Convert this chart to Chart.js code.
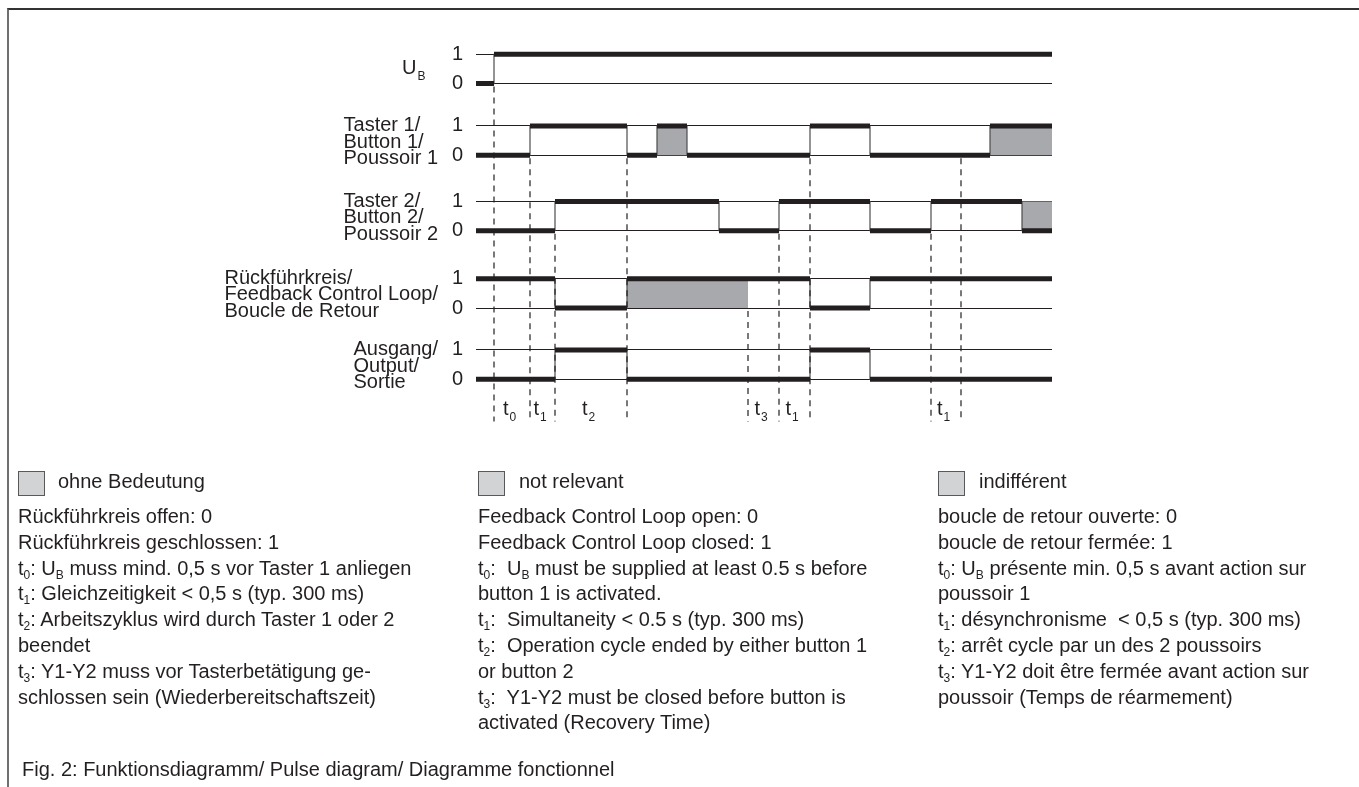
<!DOCTYPE html>
<html>
<head>
<meta charset="utf-8">
<title>Pulse diagram</title>
<script src="https://cdn.jsdelivr.net/npm/chart.js@4.4.1/dist/chart.umd.min.js"></script>
<style>
  html, body { margin: 0; padding: 0; background: #fff; }
  body {
    width: 1359px; height: 787px; position: relative; overflow: hidden;
    font-family: "Liberation Sans", Arial, Helvetica, sans-serif; color: #231f20;
  }
  #frame { position: absolute; left: 7px; top: 8px; right: 0; bottom: 0;
           border-top: 2px solid #333; border-left: 2px solid #707070; }
  #chart { position: absolute; left: 0; top: 0; }
  .col { position: absolute; top: 504px; font-size: 20px; line-height: 25.8px; white-space: nowrap; }
  .box { position: absolute; top: 471px; width: 25px; height: 23px;
         background: #d1d3d4; border: 1px solid #58595b; }
  .key { position: absolute; top: 469px; font-size: 20px; line-height: 25.8px; white-space: nowrap; }
  sub { font-size: 12px; line-height: 0; vertical-align: -4px; }
  #caption { position: absolute; left: 22px; top: 757px; font-size: 20px; line-height: 25.8px; white-space: nowrap; }
</style>
</head>
<body>
<div id="frame"></div>
<canvas id="chart" width="1359" height="787"></canvas>

<div class="box" style="left:18px"></div>
<div class="key" style="left:58px">ohne Bedeutung</div>
<div class="col" style="left:18px">
Rückführkreis offen: 0<br>
Rückführkreis geschlossen: 1<br>
t<sub>0</sub>: U<sub>B</sub> muss mind. 0,5 s vor Taster 1 anliegen<br>
t<sub>1</sub>: Gleichzeitigkeit &lt; 0,5 s (typ. 300 ms)<br>
t<sub>2</sub>: Arbeitszyklus wird durch Taster 1 oder 2<br>
beendet<br>
t<sub>3</sub>: Y1-Y2 muss vor Tasterbetätigung ge-<br>
schlossen sein (Wiederbereitschaftszeit)
</div>

<div class="box" style="left:478px"></div>
<div class="key" style="left:519px">not relevant</div>
<div class="col" style="left:478px">
Feedback Control Loop open: 0<br>
Feedback Control Loop closed: 1<br>
t<sub>0</sub>:&nbsp; U<sub>B</sub> must be supplied at least 0.5 s before<br>
button 1 is activated.<br>
t<sub>1</sub>:&nbsp; Simultaneity &lt; 0.5 s (typ. 300 ms)<br>
t<sub>2</sub>:&nbsp; Operation cycle ended by either button 1<br>
or button 2<br>
t<sub>3</sub>:&nbsp; Y1-Y2 must be closed before button is<br>
activated (Recovery Time)
</div>

<div class="box" style="left:938px"></div>
<div class="key" style="left:979px">indifférent</div>
<div class="col" style="left:938px">
boucle de retour ouverte: 0<br>
boucle de retour fermée: 1<br>
t<sub>0</sub>: U<sub>B</sub> présente min. 0,5 s avant action sur<br>
poussoir 1<br>
t<sub>1</sub>: désynchronisme&nbsp; &lt; 0,5 s (typ. 300 ms)<br>
t<sub>2</sub>: arrêt cycle par un des 2 poussoirs<br>
t<sub>3</sub>: Y1-Y2 doit être fermée avant action sur<br>
poussoir (Temps de réarmement)
</div>

<div id="caption">Fig. 2: Funktionsdiagramm/ Pulse diagram/ Diagramme fonctionnel</div>

<script>
// signal rows, top to bottom
const rowNames = [
  ['U_B'],
  ['Taster 1/', 'Button 1/', 'Poussoir 1'],
  ['Taster 2/', 'Button 2/', 'Poussoir 2'],
  ['Rückführkreis/', 'Feedback Control Loop/', 'Boucle de Retour'],
  ['Ausgang/', 'Output/', 'Sortie']
];
const rowBase = [10.1, 7.65, 5.07, 2.43, 0];
const levelLabels = ['0', '1'];

// switching times and the level held after each one
const ubTimes = [0, 18, 576];
const ubLevels = [0, 1];
const t1Times = [0, 54, 151, 181, 211, 334, 394, 514, 576];
const t1Levels = [0, 1, 0, 1, 0, 1, 0, 1];
const t2Times = [0, 79, 243, 303, 394, 455, 546, 576];
const t2Levels = [0, 1, 0, 1, 0, 1, 0];
const fbTimes = [0, 79, 151, 334, 394, 576];
const fbLevels = [1, 0, 1, 0, 1];
const outTimes = [0, 79, 151, 334, 394, 576];
const outLevels = [0, 1, 0, 1, 0];

// "not relevant" spans
const ubGray = [];
const t1Gray = [[181, 211], [514, 576]];
const t2Gray = [[546, 576]];
const fbGray = [[151, 272]];
const outGray = [];

// dashed markers and the row they hang from
const markTimes = [18, 54, 79, 151, 272, 303, 334, 455, 485];
const markFromRow = [0, 1, 2, 1, 3, 2, 1, 2, 1];

// t-intervals
const spanStart = [18, 54, 79, 272, 303, 455];
const spanEnd = [54, 79, 151, 303, 334, 485];
const spanSub = ['0', '1', '2', '3', '1', '1'];

const INK = '#231f20';
const FONT = '"Liberation Sans", Arial, Helvetica, sans-serif';

const signals = [
  { times: ubTimes, levels: ubLevels, gray: ubGray },
  { times: t1Times, levels: t1Levels, gray: t1Gray },
  { times: t2Times, levels: t2Levels, gray: t2Gray },
  { times: fbTimes, levels: fbLevels, gray: fbGray },
  { times: outTimes, levels: outLevels, gray: outGray }
];

const datasets = [];
signals.forEach((s, r) => {
  const b = rowBase[r];
  s.gray.forEach(([a, e]) => {
    datasets.push({
      data: [{ x: a, y: b + 1 }, { x: e, y: b + 1 }],
      fill: { value: b }, backgroundColor: '#a7a9ac', borderWidth: 0, order: 3
    });
  });
  const thin = s.levels.map((l, i) => ({ x: s.times[i], y: b + l }));
  thin.push({ x: s.times[s.times.length - 1], y: b + s.levels[s.levels.length - 1] });
  datasets.push({ data: thin, stepped: 'before', borderColor: '#4d4d4f', borderWidth: 1.2, order: 2 });
  const bold = [];
  s.levels.forEach((l, i) => {
    bold.push({ x: s.times[i], y: b + l }, { x: s.times[i + 1], y: b + l }, { x: s.times[i + 1], y: null });
  });
  datasets.push({ data: bold, borderColor: INK, borderWidth: 5, borderCapStyle: 'butt', order: 1 });
});

markTimes.forEach((t, i) => {
  datasets.push({
    data: [{ x: t, y: rowBase[markFromRow[i]] - 0.1 }, { x: t, y: -1.45 }],
    borderColor: INK, borderWidth: 1.2, borderDash: [6, 5], order: 0
  });
});

const tickValues = [];
rowBase.forEach(b => { tickValues.push(b, b + 1); });

function drawSub(ctx, main, sub, x, y, align) {
  ctx.font = '20px ' + FONT;
  const w1 = ctx.measureText(main).width;
  ctx.font = '12px ' + FONT;
  const w2 = ctx.measureText(sub).width;
  let left = x;
  if (align === 'center') left = x - (w1 + w2) / 2;
  ctx.textAlign = 'left';
  ctx.font = '20px ' + FONT;
  ctx.fillText(main, left, y);
  ctx.font = '12px ' + FONT;
  ctx.fillText(sub, left + w1 + 1, y + 6);
}

const labelPlugin = {
  id: 'rowLabels',
  afterDraw(chart) {
    const { ctx, chartArea, scales } = chart;
    const y = scales.y, x = scales.x;
    ctx.save();
    ctx.fillStyle = INK;
    ctx.textBaseline = 'alphabetic';
    const right = chartArea.left - 38;
    rowNames.forEach((lines, r) => {
      const mid = y.getPixelForValue(rowBase[r] + 0.5);
      if (lines[0].includes('_')) {
        const [m, s] = lines[0].split('_');
        drawSub(ctx, m, s, right - 36, mid + 5, 'left');
        return;
      }
      ctx.font = '20px ' + FONT;
      const w = Math.max(...lines.map(l => ctx.measureText(l).width));
      const step = 16.5;
      const first = mid - step * (lines.length - 1) / 2;
      ctx.textAlign = 'left';
      lines.forEach((l, i) => ctx.fillText(l, right - w, first + i * step + 7));
    });
    spanStart.forEach((a, i) => {
      const cx = (x.getPixelForValue(a) + x.getPixelForValue(spanEnd[i])) / 2 - 3;
      drawSub(ctx, 't', spanSub[i], cx, 415, 'center');
    });
    ctx.restore();
  }
};

new Chart(document.getElementById('chart'), {
  type: 'line',
  data: { datasets },
  options: {
    responsive: false,
    animation: false,
    layout: { padding: { left: 0, right: 307, top: 15, bottom: 361 } },
    elements: { point: { radius: 0 }, line: { tension: 0 } },
    plugins: { legend: { display: false }, tooltip: { enabled: false } },
    scales: {
      x: { type: 'linear', min: 0, max: 576, display: false },
      y: {
        type: 'linear', min: -1.6, max: 12.1,
        afterFit: s => { s.width = 476; },
        afterBuildTicks: s => { s.ticks = tickValues.map(v => ({ value: v })); },
        ticks: {
          padding: 13, color: INK, font: { size: 20, family: FONT },
          callback: v => levelLabels[Math.round(v - rowBase.find(b => v >= b - 0.01 && v <= b + 1.01))]
        },
        grid: { drawTicks: false, color: INK, lineWidth: 1 },
        border: { display: false }
      }
    }
  },
  plugins: [labelPlugin]
});
</script>
</body>
</html>
